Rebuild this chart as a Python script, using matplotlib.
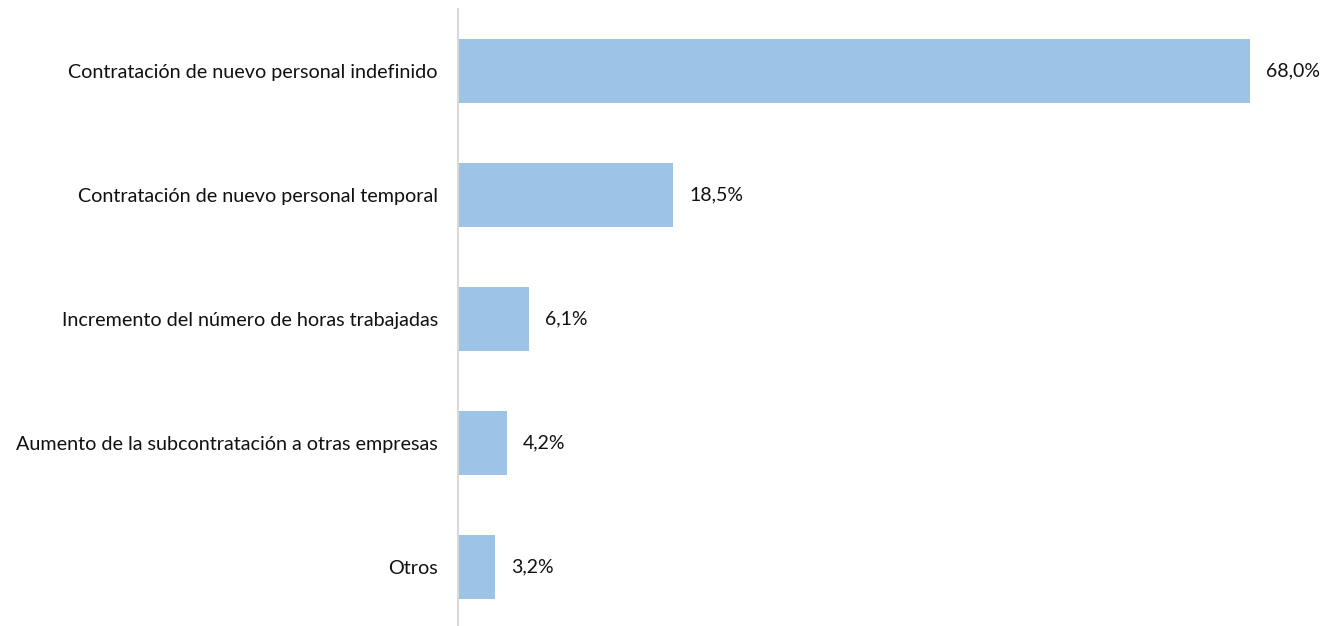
import matplotlib
matplotlib.use("Agg")
import matplotlib.pyplot as plt
from matplotlib.transforms import offset_copy

categories = [
    "Contratación de nuevo personal indefinido",
    "Contratación de nuevo personal temporal",
    "Incremento del número de horas trabajadas",
    "Aumento de la subcontratación a otras empresas",
    "Otros",
]
values = [68.0, 18.5, 6.1, 4.2, 3.2]
value_labels = ["68,0%", "18,5%", "6,1%", "4,2%", "3,2%"]

plt.rcParams["font.family"] = ["Lato", "DejaVu Sans"]

W, H = 1323, 626
fig = plt.figure(figsize=(W / 100, H / 100), dpi=100)
px_per_unit = (1250 - 458) / 68.0
xmax = 70.0
left = 458 / W
width = xmax * px_per_unit / W
ax = fig.add_axes([left, -3 / H, width, 620 / H])

y = list(range(len(categories)))
ax.barh(y, values, height=0.516, color="#9DC3E6", zorder=2)
ax.set_xlim(0, xmax)
ax.set_ylim(len(categories) - 0.5, -0.5)

ax.set_yticks(y)
ax.set_yticklabels(categories, fontsize=14.2, color="#111111")
ax.tick_params(axis="y", length=0, pad=14.4)
ax.set_xticks([])

for s in ["top", "right", "bottom"]:
    ax.spines[s].set_visible(False)
ax.spines["left"].set_color("#D9D9D9")
ax.spines["left"].set_linewidth(1.5)
ax.spines["left"].set_zorder(3)

trans = offset_copy(ax.transData, fig=fig, x=16, y=0, units="dots")
for yi, v, lab in zip(y, values, value_labels):
    ax.text(v, yi, lab, transform=trans, ha="left", va="center",
            fontsize=14, color="#111111", clip_on=False)

fig.savefig("out.png", dpi=100)
